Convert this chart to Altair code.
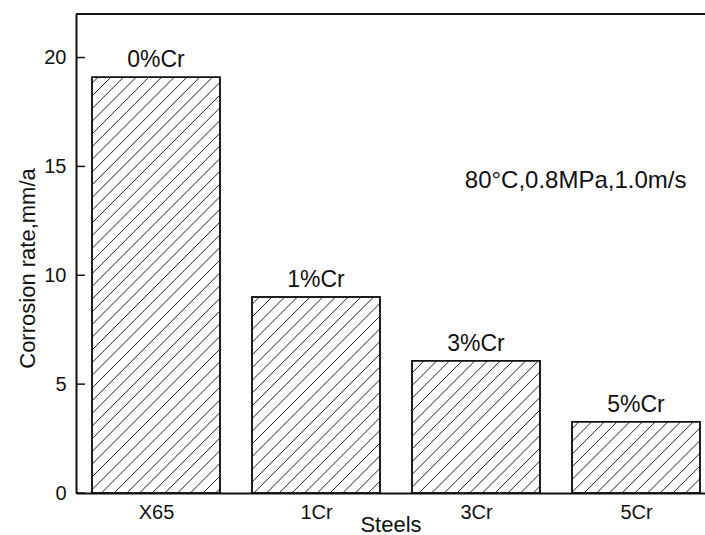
import altair as alt
import pandas as pd

# ---- data ----
steels = ["X65", "1Cr", "3Cr", "5Cr"]
rates = [19.1, 9.0, 6.07, 3.27]
bar_labels = ["0%Cr", "1%Cr", "3%Cr", "5%Cr"]
y_ticks = [0, 5, 10, 15, 20]
note_text = ["80°C,0.8MPa,1.0m/s"]
note_x = [1.93]
note_y = [14.0]

# ---- layout ----
W, H = 629, 479
XMIN, XMAX = -0.5, -0.5 + W / 160.0
YMAX = 22
PX = W / (XMAX - XMIN)
PY = H / YMAX
HALF = 0.4
SP = 12.7  # hatch spacing (px)
FONT = "Liberation Sans"

bars_df = pd.DataFrame({"steel": steels, "rate": rates, "label": bar_labels,
                        "idx": list(range(len(steels)))})
ticks_df = pd.DataFrame({"t": y_ticks})
note_df = pd.DataFrame({"text": note_text, "x": note_x, "y": note_y})
top_df = pd.DataFrame({"a": [0]})

xscale = alt.Scale(domain=[XMIN, XMAX], nice=False, zero=False)
yscale = alt.Scale(domain=[0, YMAX], nice=False)

label_expr = "[" + ",".join("'%s'" % s for s in steels) + "][round(datum.value)]"

xaxis = alt.Axis(values=list(range(len(steels))), labelExpr=label_expr,
                 ticks=False, grid=False, domainWidth=2, domainColor="#111",
                 labelFontSize=20, labelColor="#111", labelPadding=9,
                 labelFont=FONT,
                 title="Steels", titleFontSize=22, titleFont=FONT,
                 titleFontWeight="normal", titleColor="#111",
                 titleY=38, titleBaseline="alphabetic")
yaxis = alt.Axis(values=y_ticks, ticks=False, grid=False, domainWidth=2,
                 domainColor="#111", labelFontSize=20, labelColor="#111",
                 labelPadding=10, labelFont=FONT,
                 title="Corrosion rate,mm/a", titleFontSize=22,
                 titleFont=FONT, titleFontWeight="normal", titleColor="#111",
                 titleAngle=-90, titleX=-42, titleY=254,
                 titleAlign="center", titleBaseline="alphabetic")

base = alt.Chart(bars_df).transform_calculate(
    x1=f"datum.idx - {HALF}", x2=f"datum.idx + {HALF}", y0="0"
)

bars = base.mark_bar(fill="white", stroke="#111", strokeWidth=1.5).encode(
    x=alt.X("x1:Q", scale=xscale, axis=xaxis),
    x2="x2:Q",
    y=alt.Y("rate:Q", scale=yscale, axis=yaxis),
    y2="y0:Q",
)

hatch = base.transform_calculate(
    L=f"(datum.idx - {HALF} - ({XMIN})) * {PX}",
    R=f"(datum.idx + {HALF} - ({XMIN})) * {PX}",
    Hp=f"datum.rate * {PY}",
).transform_calculate(
    ks=f"sequence(ceil((datum.L - datum.Hp) / {SP}), floor(datum.R / {SP}) + 1)"
).transform_flatten(["ks"], as_=["k"]).transform_calculate(
    c=f"datum.k * {SP}"
).transform_calculate(
    sx="max(datum.L, datum.c)", ex="min(datum.R, datum.c + datum.Hp)"
).transform_filter("datum.sx < datum.ex - 0.3").transform_calculate(
    hx1=f"datum.sx / {PX} + ({XMIN})",
    hy1=f"(datum.sx - datum.c) / {PY}",
    hx2=f"datum.ex / {PX} + ({XMIN})",
    hy2=f"(datum.ex - datum.c) / {PY}",
).mark_rule(color="#222", strokeWidth=1).encode(
    x=alt.X("hx1:Q", scale=xscale, axis=xaxis),
    y=alt.Y("hy1:Q", scale=yscale, axis=yaxis),
    x2="hx2:Q",
    y2="hy2:Q",
)

outline = base.mark_bar(fillOpacity=0, stroke="#111", strokeWidth=1.5).encode(
    x=alt.X("x1:Q", scale=xscale, axis=xaxis),
    x2="x2:Q",
    y=alt.Y("rate:Q", scale=yscale, axis=yaxis),
    y2="y0:Q",
)

labels = alt.Chart(bars_df).mark_text(
    fontSize=23, font=FONT, color="#111", baseline="alphabetic", dy=-10
).encode(
    x=alt.X("idx:Q", scale=xscale, axis=xaxis),
    y=alt.Y("rate:Q", scale=yscale, axis=yaxis),
    text="label:N",
)

note = alt.Chart(note_df).mark_text(
    fontSize=24, font=FONT, color="#111", align="left", baseline="alphabetic"
).encode(
    x=alt.X("x:Q", scale=xscale, axis=xaxis),
    y=alt.Y("y:Q", scale=yscale, axis=yaxis),
    text="text:N",
)

inner_ticks = alt.Chart(ticks_df).mark_rule(color="#111", strokeWidth=1.5).encode(
    y=alt.Y("t:Q", scale=yscale, axis=yaxis),
    x=alt.value(0),
    x2=alt.value(9),
)

top_line = alt.Chart(top_df).mark_rule(color="#111", strokeWidth=2).encode(
    y=alt.datum(YMAX, scale=yscale, axis=yaxis)
)

chart = alt.layer(bars, hatch, outline, labels, note, inner_ticks, top_line).properties(
    width=W, height=H,
    autosize=alt.AutoSizeParams(type="none"),
    padding={"left": 76, "top": 14, "right": 0, "bottom": 42},
).configure_view(stroke=None).configure(font=FONT, background="white")

chart.save("out.html", embed_options={"renderer": "svg", "actions": False})
